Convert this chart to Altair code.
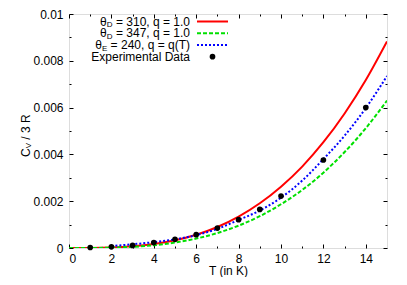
import altair as alt
import pandas as pd

# ---- data ----
T_curve = [0, 1, 2, 3, 4, 5, 6, 7, 8, 9, 10, 11, 12, 13, 14, 15]
red_vals = [0, 0.0000026, 0.0000209, 0.0000706, 0.000167, 0.000327, 0.000565, 0.000897,
            0.00134, 0.00191, 0.00262, 0.00348, 0.00452, 0.00575, 0.00718, 0.00883]
green_vals = [0, 0.0000019, 0.0000149, 0.0000504, 0.000119, 0.000233, 0.000403, 0.00064,
              0.000955, 0.00136, 0.00187, 0.00248, 0.00322, 0.0041, 0.00512, 0.0063]
T_blue = [2, 3, 4, 5, 6, 7, 8, 9, 10, 11, 12, 13, 14, 15]
blue_vals = [0.00008, 0.00016, 0.00025, 0.00037, 0.00055, 0.00082, 0.0012, 0.0016,
             0.00215, 0.00288, 0.0038, 0.0048, 0.00598, 0.00735]
T_exp = [1, 2, 3, 4, 5, 6, 7, 8, 9, 10, 12, 14]
cv_exp = [0.00002, 0.00005, 0.00011, 0.00023, 0.00037, 0.00057, 0.00085, 0.00121,
          0.00165, 0.00222, 0.00376, 0.006]

x_major = [0, 2, 4, 6, 8, 10, 12, 14]
x_minor = [1, 3, 5, 7, 9, 11, 13]
y_major = [0, 0.002, 0.004, 0.006, 0.008, 0.01]
y_minor = [0.001, 0.003, 0.005, 0.007, 0.009]

legend_labels = ["= 310, q = 1.0", "= 347, q = 1.0", "= 240, q = q(T)", "Experimental Data"]
legend_subs = ["D", "D", "E"]
x_title = "T (in K)"
y_title_parts = ["C", "V", "/ 3 R"]

W, H = 318, 234
FONT = "Liberation Sans"

df_red = pd.DataFrame({"T": T_curve, "v": red_vals})
df_green = pd.DataFrame({"T": T_curve, "v": green_vals})
df_blue = pd.DataFrame({"T": T_blue, "v": blue_vals})
df_exp = pd.DataFrame({"T": T_exp, "v": cv_exp})

xs = alt.Scale(domain=[0, 15], nice=False, zero=False)
ys = alt.Scale(domain=[0, 0.01], nice=False)


def tick_axis(orient, values, size, **kw):
    base = dict(orient=orient, values=values, tickSize=size, offset=-size, domain=False,
                grid=False, labels=False, title=None, tickColor="black", tickWidth=1)
    base.update(kw)
    return alt.Axis(**base)


lab = dict(labels=True, labelFont=FONT, labelFontSize=12, labelColor="black")

ax_b_major = tick_axis("bottom", x_major, 4, labelPadding=5, title=x_title, titleFont=FONT,
                       titleFontSize=12, titleFontWeight="normal", titleColor="black",
                       titlePadding=1, **lab)
ax_l_major = tick_axis("left", y_major, 4, labelPadding=6, format="~g", **lab)
ax_b_minor = tick_axis("bottom", x_minor, 2)
ax_l_minor = tick_axis("left", y_minor, 2)
ax_t_major = tick_axis("top", x_major, 4)
ax_r_major = tick_axis("right", y_major, 4)
ax_t_minor = tick_axis("top", x_minor, 2)
ax_r_minor = tick_axis("right", y_minor, 2)

red = alt.Chart(df_red).mark_line(color="#ff0000", strokeWidth=2, interpolate="monotone", clip=True).encode(
    x=alt.X("T:Q", scale=xs, axis=ax_b_major), y=alt.Y("v:Q", scale=ys, axis=ax_l_major))
green = alt.Chart(df_green).mark_line(color="#00e000", strokeWidth=2, strokeDash=[4, 2],
                                      interpolate="monotone", clip=True).encode(
    x=alt.X("T:Q", scale=xs, axis=ax_b_minor), y=alt.Y("v:Q", scale=ys, axis=ax_l_minor))
blue = alt.Chart(df_blue).mark_line(color="#0000ff", strokeWidth=2, strokeDash=[2, 2],
                                    interpolate="monotone", clip=True).encode(
    x=alt.X("T:Q", scale=xs, axis=ax_t_major), y=alt.Y("v:Q", scale=ys, axis=ax_r_major))
pts = alt.Chart(df_exp).mark_circle(color="black", opacity=1, size=32).encode(
    x=alt.X("T:Q", scale=xs, axis=ax_t_minor), y=alt.Y("v:Q", scale=ys, axis=ax_r_minor))

# ---- legend (top-left inside plot) ----
row_y = [7.5, 19.3, 31, 42.7]
x_txt = 121
rest_w = [77.4, 77.4, 82.7]
sub_w = [5.8, 5.8, 5.3]
leg_rows = []
for i in range(3):
    leg_rows.append({"t": legend_labels[i], "px": x_txt, "py": row_y[i], "fs": 12})
    leg_rows.append({"t": legend_subs[i], "px": x_txt - rest_w[i], "py": row_y[i] + 3.5, "fs": 8})
    leg_rows.append({"t": "θ", "px": x_txt - rest_w[i] - sub_w[i], "py": row_y[i], "fs": 12})
leg_rows.append({"t": legend_labels[3], "px": x_txt, "py": row_y[3], "fs": 12})
leg_text = alt.Chart(pd.DataFrame(leg_rows)).mark_text(align="right", baseline="middle", font=FONT,
                                                       color="black").encode(
    x=alt.X("px:Q", scale=None), y=alt.Y("py:Q", scale=None), text="t:N",
    size=alt.Size("fs:Q", scale=None))

lx1, lx2 = 128, 159
leg_red = alt.Chart().mark_rule(color="#ff0000", strokeWidth=2).encode(
    x=alt.value(lx1), x2=alt.value(lx2), y=alt.value(row_y[0]))
leg_green = alt.Chart().mark_rule(color="#00e000", strokeWidth=2, strokeDash=[4, 2]).encode(
    x=alt.value(lx1), x2=alt.value(lx2), y=alt.value(row_y[1]))
leg_blue = alt.Chart().mark_rule(color="#0000ff", strokeWidth=2, strokeDash=[2, 2]).encode(
    x=alt.value(lx1), x2=alt.value(lx2), y=alt.value(row_y[2]))
leg_pt = alt.Chart().mark_circle(color="black", opacity=1, size=32).encode(
    x=alt.value((lx1 + lx2) / 2), y=alt.value(row_y[3]))

# ---- y title with subscript ----
yt = pd.DataFrame([
    {"t": y_title_parts[0], "px": -43, "py": 143, "fs": 12},
    {"t": y_title_parts[1], "px": -40, "py": 134.3, "fs": 8},
    {"t": y_title_parts[2], "px": -43, "py": 125.7, "fs": 12},
])
ytitle = alt.Chart(yt).mark_text(align="left", baseline="middle", angle=270, font=FONT,
                                 color="black").encode(
    x=alt.X("px:Q", scale=None), y=alt.Y("py:Q", scale=None), text="t:N",
    size=alt.Size("fs:Q", scale=None))

chart = alt.layer(red, green, blue, pts, leg_text, leg_red, leg_green, leg_blue, leg_pt, ytitle).resolve_axis(
    x="independent", y="independent"
).properties(
    width=W, height=H,
    autosize=alt.AutoSizeParams(type="none"),
    padding={"left": 61, "top": 6, "right": 12, "bottom": 29},
).configure_view(stroke="black", strokeWidth=1).configure(background="white")

chart.save("out.html", embed_options={"renderer": "svg", "actions": False})
